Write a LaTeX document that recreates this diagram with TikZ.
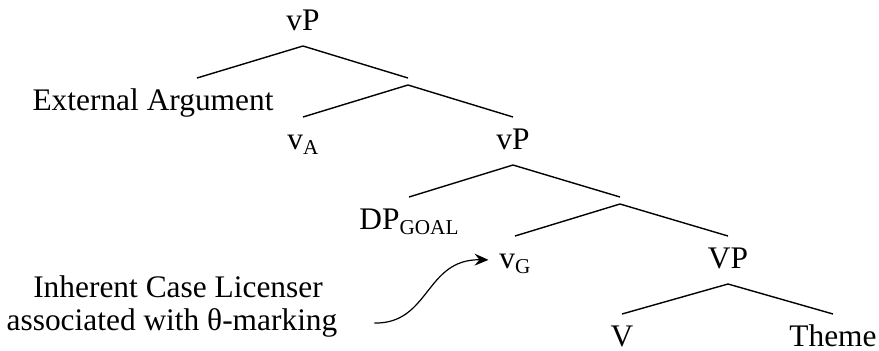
\documentclass[tikz,border=0pt]{standalone}
\usepackage{fontspec}
\setmainfont{Liberation Serif}
\usepackage{tikz}
\usetikzlibrary{arrows.meta,calc,positioning}
\newcommand{\lsub}[1]{\raisebox{-2.5pt}{\fontsize{10.6}{11}\selectfont #1}}
\tikzset{lbl/.style={inner xsep=0pt, inner ysep=5pt, text height=11pt, text depth=3pt, outer sep=0pt}}
\tikzset{leaf/.style={lbl, inner ysep=0pt, text height=16pt, text depth=0pt}}
\tikzset{bar/.style={inner sep=0pt, outer sep=0pt, minimum width=0pt, minimum height=3.5pt}}
\tikzstyle{note}=[inner sep=0pt, outer sep=0pt, anchor=base]

\begin{document}
\begin{tikzpicture}[x=0.5pt, y=-0.5pt, line width=0.7pt, >={Stealth[length=7pt,width=6pt,inset=2.5pt]}, font=\fontsize{15.7}{16.5}\selectfont]
\useasboundingbox (0,0) rectangle (879,350);
\node[lbl, anchor=base] (top) at (303,30) {vP};
\node[bar, anchor=north] (j1) at ($(top.south)+(105,32)$) {};
\node[note] (ea) at (153,110) {External Argument};
\coordinate (eatop) at ($(top.south)+(-106,32)$);
\node[lbl, anchor=north] (va) at ($(j1.south)+(-105,32)$) {v\lsub{A}};
\node[lbl, anchor=north] (vp2) at ($(j1.south)+(105,32)$) {vP};
\node[lbl, anchor=north] (dp) at ($(vp2.south)+(-104,32)$) {DP\lsub{GOAL}};
\node[bar, anchor=north] (j2) at ($(vp2.south)+(107,32)$) {};
\node[lbl, anchor=north] (vg) at ($(j2.south)+(-105,32)$) {v\lsub{G}};
\node[lbl, anchor=north] (vpb) at ($(j2.south)+(108,32)$) {VP};
\node[leaf, anchor=north] (vv) at ($(vpb.south)+(-106,30)$) {V};
\node[leaf, anchor=north] (theme) at ($(vpb.south)+(105,30)$) {Theme};
\node[note] (lic1) at (178,297) {Inherent Case Licenser};
\node[note] (lic2) at (172,330) {associated with θ-marking};
\draw (top.south) -- (eatop)
      (top.south) -- (j1.north)
      (j1.south) -- (va.north)
      (j1.south) -- (vp2.north)
      (vp2.south) -- (dp.north)
      (vp2.south) -- (j2.north)
      (j2.south) -- (vg.north)
      (j2.south) -- (vpb.north)
      (vpb.south) -- (vv.north)
      (vpb.south) -- (theme.north);
\draw[->, line width=0.6pt, shorten <=18.5pt, shorten >=5.5pt] (lic2.east) .. controls (430,324) and (425,259) .. (vg.west);
\end{tikzpicture}
\end{document}
